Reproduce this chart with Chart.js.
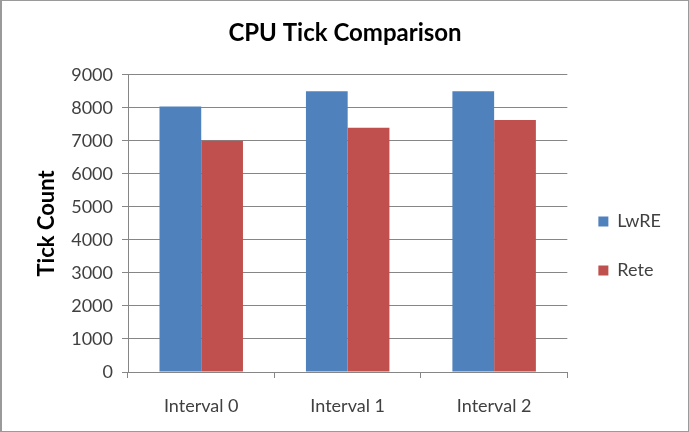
<!DOCTYPE html>
<html>
<head>
    <meta charset="UTF-8">
    <title>CPU Tick Comparison</title>
    <script src="https://cdn.jsdelivr.net/npm/chart.js"></script>
    <style>
        body { margin: 0; background: #fff; }
        #wrap {
            width: 689px; height: 432px; box-sizing: border-box;
            border: 1px solid #9a9a9a; border-left: 2px solid #9a9a9a;
        }
    </style>
</head>
<body>
    <div id="wrap"><canvas id="myChart" width="686" height="430"></canvas></div>

    <script>
        // data
        const intervals = ['Interval 0', 'Interval 1', 'Interval 2'];
        const lwreTicks = [8040, 8500, 8500];
        const reteTicks = [7000, 7400, 7630];
        const yTicks = [0, 1000, 2000, 3000, 4000, 5000, 6000, 7000, 8000, 9000];

        const axisGray = '#868686';
        const textGray = '#404040';
        const font = 'Lato, "Open Sans", sans-serif';

        const ctx = document.getElementById('myChart').getContext('2d');
        const myChart = new Chart(ctx, {
            type: 'bar',
            data: {
                labels: intervals,
                datasets: [{
                    label: 'LwRE',
                    data: lwreTicks,
                    backgroundColor: '#4F81BD'
                }, {
                    label: 'Rete',
                    data: reteTicks,
                    backgroundColor: '#C0504D'
                }]
            },
            options: {
                responsive: false,
                animation: false,
                layout: { padding: { left: 17, right: 17, top: 0, bottom: 0 } },
                categoryPercentage: 0.57,
                barPercentage: 1.0,
                plugins: {
                    title: {
                        display: true,
                        text: 'CPU Tick Comparison',
                        color: '#000',
                        font: { family: font, size: 24, weight: 'bold' },
                        padding: { top: 18, bottom: 27 }
                    },
                    legend: {
                        position: 'right',
                        // empty title just pushes the entries down a bit
                        title: {
                            display: true,
                            text: ' ',
                            font: { family: font, size: 20 },
                            padding: { top: 18, bottom: 18 }
                        },
                        labels: {
                            color: textGray,
                            font: { family: font, size: 18 },
                            boxWidth: 10,
                            boxHeight: 10,
                            padding: 31
                        }
                    },
                    tooltip: { enabled: false }
                },
                scales: {
                    x: {
                        grid: {
                            display: true,
                            drawOnChartArea: false,
                            drawTicks: true,
                            tickLength: 6,
                            color: axisGray
                        },
                        border: { color: axisGray },
                        ticks: {
                            color: textGray,
                            font: { family: font, size: 18 },
                            padding: 17
                        },
                        afterFit: function(scale) { scale.height = 59; }
                    },
                    y: {
                        min: 0,
                        max: 9000,
                        afterBuildTicks: function(scale) {
                            scale.ticks = yTicks.map(v => ({ value: v }));
                        },
                        grid: {
                            color: axisGray,
                            tickLength: 6
                        },
                        border: { color: axisGray },
                        ticks: {
                            color: textGray,
                            font: { family: font, size: 18 },
                            padding: 9,
                            callback: function(value) { return String(value); }
                        },
                        title: {
                            display: true,
                            text: 'Tick Count',
                            color: '#000',
                            font: { family: font, size: 22, weight: 'bold' },
                            padding: { top: 15, bottom: 4 }
                        },
                        afterFit: function(scale) { scale.width = 109; }
                    }
                }
            }
        });
    </script>
</body>
</html>
